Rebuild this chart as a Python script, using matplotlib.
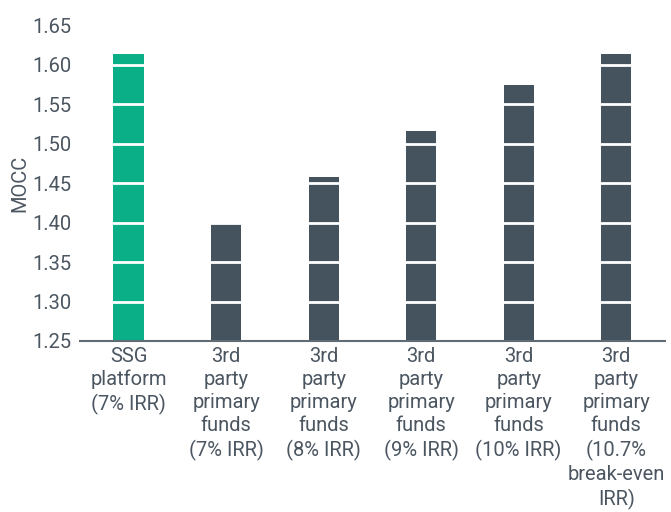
import matplotlib
matplotlib.use("Agg")
import matplotlib.pyplot as plt

categories = [
    "SSG\nplatform\n(7% IRR)",
    "3rd\nparty\nprimary\nfunds\n(7% IRR)",
    "3rd\nparty\nprimary\nfunds\n(8% IRR)",
    "3rd\nparty\nprimary\nfunds\n(9% IRR)",
    "3rd\nparty\nprimary\nfunds\n(10% IRR)",
    "3rd\nparty\nprimary\nfunds\n(10.7%\nbreak-even\nIRR)",
]
mocc = [1.613, 1.400, 1.458, 1.516, 1.574, 1.614]
colors = ["#0aaf87", "#45535f", "#45535f", "#45535f", "#45535f", "#45535f"]
yticks = [1.25, 1.30, 1.35, 1.40, 1.45, 1.50, 1.55, 1.60, 1.65]

plt.rcParams['font.family'] = ['Roboto', 'DejaVu Sans']
text_color = "#4b5661"

fig = plt.figure(figsize=(6.71, 5.12), dpi=100)
ax = fig.add_axes([0.119, 0.334, 0.872, 0.617])
x = list(range(len(categories)))
ax.bar(x, [v - 1.25 for v in mocc], bottom=1.25, width=0.31, color=colors, zorder=2)
ax.set_xlim(-0.5, len(categories) - 0.5)
ax.set_ylim(1.25, 1.65)
ax.set_yticks(yticks)
ax.set_yticklabels([f"{t:.2f}" for t in yticks])
ax.set_xticks(x)
ax.set_xticklabels(categories, linespacing=1.28)
ax.grid(axis="y", color="white", linewidth=2, zorder=3)
ax.set_axisbelow(False)
for s in ["top", "right", "left"]:
    ax.spines[s].set_visible(False)
ax.spines["bottom"].set_color("#5f6b75")
ax.spines["bottom"].set_linewidth(1.5)
ax.spines["bottom"].set_zorder(4)
ax.tick_params(axis="both", length=0, labelsize=14.5, colors=text_color, pad=4)
ax.tick_params(axis="y", pad=6)
ax.set_ylabel("MOCC", fontsize=14.5, color=text_color, labelpad=2)
fig.savefig("out.png", dpi=100)
